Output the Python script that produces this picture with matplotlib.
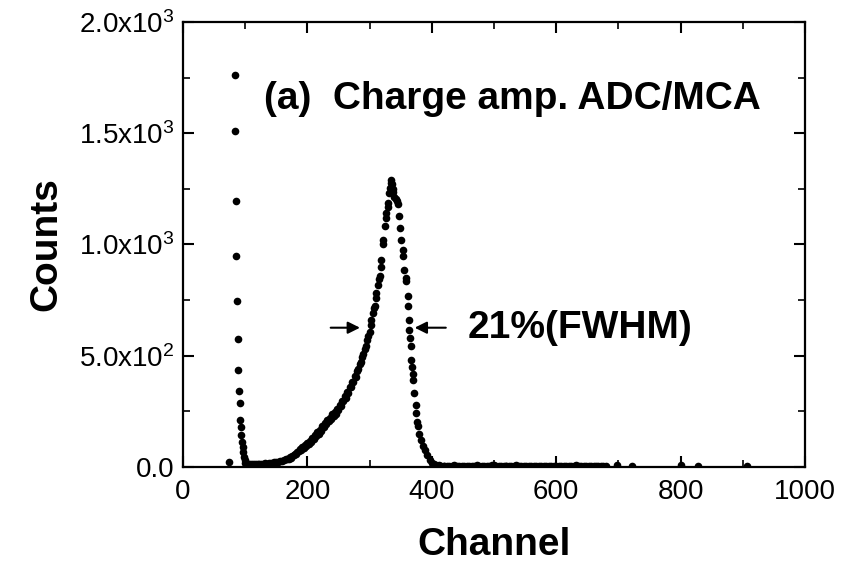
import numpy as np
import matplotlib
matplotlib.use('Agg')
import matplotlib.pyplot as plt
from matplotlib.ticker import FuncFormatter, MultipleLocator

plt.rcParams['font.family'] = ['Liberation Sans', 'DejaVu Sans']
plt.rcParams['mathtext.fontset'] = 'custom'
plt.rcParams['mathtext.rm'] = 'Liberation Sans'
plt.rcParams['mathtext.it'] = 'Liberation Sans:italic'
plt.rcParams['mathtext.bf'] = 'Liberation Sans:bold'

# 噪声尖峰 (低道址)
spike_ch = [74, 83, 84, 85, 86, 87, 88, 89, 90, 91, 92, 93, 94, 95, 96, 97, 98, 99, 100]
spike_cts = [24, 1764, 1509, 1195, 947, 745, 575, 437, 342, 287, 212, 181, 144, 114,
             91, 69, 46, 32, 18]

# 尖峰后的平坦区 102..168, 每3道
low_ch = np.arange(102, 169, 3)
low_cts = [16, 14, 15, 13, 14, 12, 14, 13, 15, 14, 16, 15, 17, 18, 19, 21, 22, 24,
           26, 28, 31, 34, 37]

# 主峰上升沿 170..288, 每2道
rise_ch = np.arange(170, 289, 2)
rise_cts = [38, 44, 41, 50, 52, 58, 60, 68, 70, 80, 78, 90, 86, 98, 96, 108, 104, 118,
            114, 130, 128, 142, 140, 156, 150, 168, 162, 182, 180, 196, 192, 210, 205,
            222, 216, 236, 230, 248, 240, 262, 258, 280, 276, 298, 296, 318, 312, 338,
            334, 360, 358, 384, 380, 408, 404, 432, 440, 462, 470, 496]

# 峰顶及下降沿
peak_ch = [290, 292, 294, 296, 298, 300, 302, 303, 305, 307, 308, 310, 311, 313, 315,
           316, 318, 319, 321, 322, 324, 326, 327, 329, 330, 332, 333, 334, 335, 336,
           337, 338, 340, 342, 344, 346, 347, 349, 351, 353, 354, 356, 358, 359, 361,
           362, 363, 364, 365, 366, 367, 368, 369, 370, 372, 374, 375, 377, 378, 380,
           383, 386, 389, 393, 397, 401, 404, 407, 411, 415, 419]
peak_cts = [510, 530, 545, 570, 590, 605, 640, 662, 690, 715, 722, 760, 782, 820, 845,
            857, 900, 932, 1000, 1022, 1082, 1120, 1143, 1170, 1188, 1230, 1255, 1275,
            1290, 1270, 1250, 1235, 1215, 1205, 1195, 1180, 1130, 1075, 1022, 975, 947,
            887, 850, 835, 767, 722, 660, 617, 580, 542, 482, 450, 420, 392, 332, 280,
            242, 200, 182, 150, 122, 95, 77, 52, 32, 20, 14, 9, 7, 6, 5]

# 高道址本底 420..680, 每4道
tail_ch = np.arange(420, 681, 4)
tail_cts = [5, 6, 4, 5, 7, 5, 4, 6, 5, 5, 4, 6, 5, 7, 5, 4, 5, 6, 5, 4, 8, 6, 5, 4,
            5, 6, 5, 4, 5, 7, 6, 5, 4, 5, 6, 5, 4, 5, 5, 6, 4, 5, 6, 5, 4, 5, 5, 4,
            6, 5, 4, 5, 6, 7, 5, 4, 5, 6, 5, 4, 5, 4, 6, 5, 4, 5]

# 零散计数
iso_ch = [497, 520, 697, 722, 800, 828, 906]
iso_cts = [8, 6, 8, 6, 8, 5, 6]

channels = np.concatenate([spike_ch, low_ch, rise_ch, peak_ch, tail_ch, iso_ch])
counts = np.concatenate([spike_cts, low_cts, rise_cts, peak_cts, tail_cts, iso_cts])

fig = plt.figure(figsize=(8.44, 5.69), dpi=100)
ax = fig.add_axes([0.2168, 0.1793, 0.737, 0.782])
ax.plot(channels, counts, 'o', color='black', markersize=5.5, markeredgewidth=0)

ax.set_xlim(0, 1000)
ax.set_ylim(0, 2000)
ax.xaxis.set_major_locator(MultipleLocator(200))
ax.xaxis.set_minor_locator(MultipleLocator(100))
ax.yaxis.set_major_locator(MultipleLocator(500))
ax.yaxis.set_minor_locator(MultipleLocator(250))


def ylab(v, pos):
    if v <= 0:
        return '0.0'
    e = int(np.floor(np.log10(v)))
    return '%.1fx10$^{%d}$' % (v / 10 ** e, e)


ax.yaxis.set_major_formatter(FuncFormatter(ylab))
ax.tick_params(which='both', direction='in', top=True, right=True)
ax.tick_params(which='major', length=8, width=1.5, labelsize=20, pad=6)
ax.tick_params(axis='x', which='major', pad=9)
ax.tick_params(which='minor', length=5, width=1.2)
for s in ax.spines.values():
    s.set_linewidth(1.6)

ax.set_xlabel('Channel', fontsize=28, fontweight='bold')
ax.set_ylabel('Counts', fontsize=28, fontweight='bold')
ax.xaxis.set_label_coords(0.5, -0.135)
ax.yaxis.set_label_coords(-0.19, 0.5)

ax.text(131, 1608, '(a)  Charge amp. ADC/MCA', fontsize=28, fontweight='bold')

# 半高宽箭头
ax.annotate('', xy=(289, 626), xytext=(233, 626),
            arrowprops=dict(arrowstyle='-|>', color='black', lw=1.5, mutation_scale=18))
ax.annotate('', xy=(368, 626), xytext=(427, 626),
            arrowprops=dict(arrowstyle='-|>', color='black', lw=1.5, mutation_scale=18))
ax.text(457, 581, '21%(FWHM)', fontsize=28, fontweight='bold')

fig.savefig('out.png', dpi=100)
